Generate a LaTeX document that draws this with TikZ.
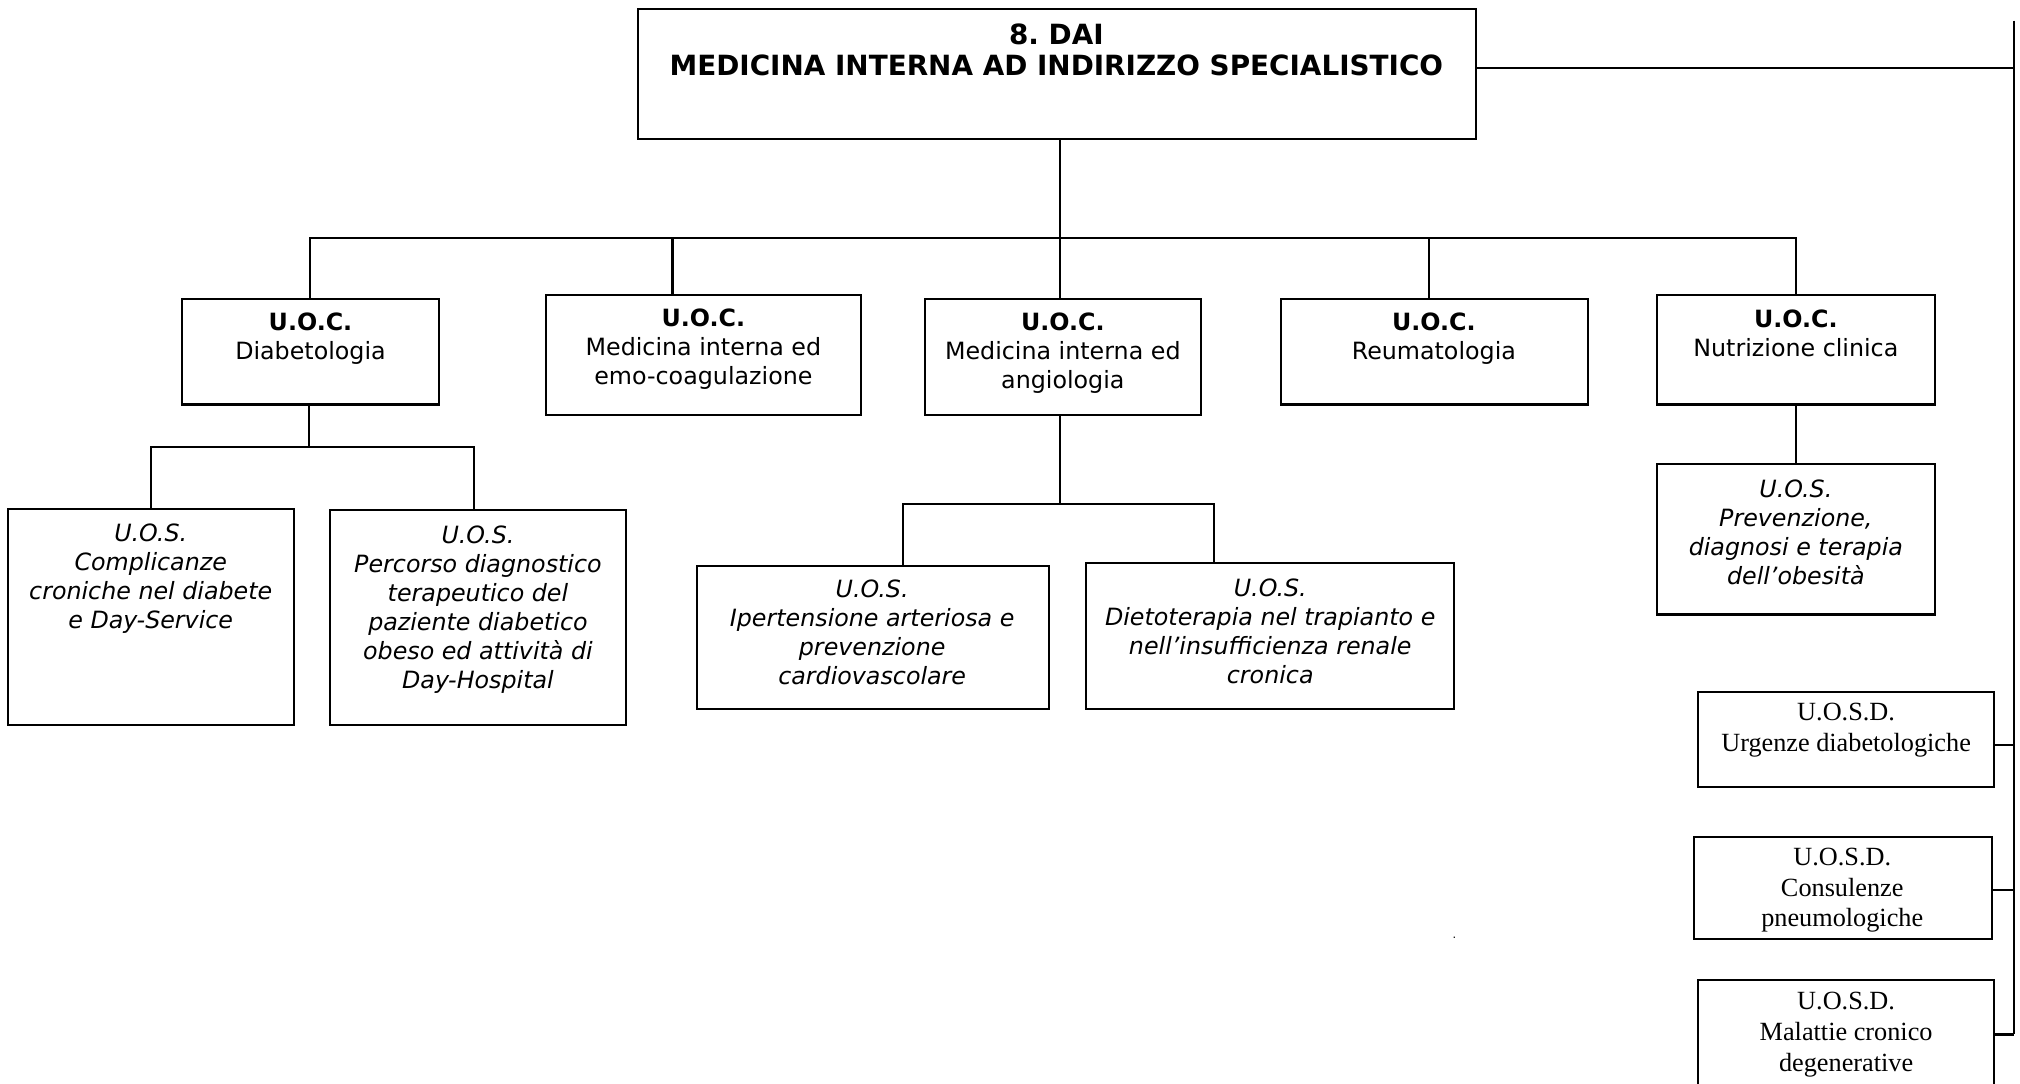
\documentclass[tikz,border=0pt]{standalone}
\usepackage{fontspec}
\setmainfont{DejaVu Sans}
\newfontfamily\serifx{Liberation Serif}
\frenchspacing
\newcommand\mkbox[5]{\node[boxs, minimum width={(#4-#2)*0.02cm}, minimum height={(#5-#3)*0.02cm}] (#1) at ({(#2+#4)/2},{(#3+#5)/2}) {};}
\begin{document}
\begin{tikzpicture}[x=0.02cm,y=-0.02cm,
 boxs/.style={draw, line width=0.9pt, inner sep=0pt, outer sep=0pt},
 uoctxt/.style={align=center, font=\fontsize{10.5}{12.8}\selectfont, inner sep=0pt},
 uostxt/.style={align=center, font=\fontsize{10.5}{12.8}\selectfont\itshape, inner sep=0pt},
 uosdtxt/.style={align=center, font=\serifx\fontsize{11.6}{13.6}\selectfont, inner sep=0pt},
 titletxt/.style={align=center, font=\fontsize{12.3}{13.7}\selectfont\bfseries, inner sep=0pt},
 conn/.style={line width=0.9pt}]
\useasboundingbox (0,0) rectangle (1568,841);
% boxes
\mkbox{top}{495}{7}{1146}{108}
\mkbox{uoc1}{141}{232}{341}{314}
\mkbox{uoc2}{424}{229}{668}{322}
\mkbox{uoc3}{718}{232}{932}{322}
\mkbox{uoc4}{994}{232}{1233}{314}
\mkbox{uoc5}{1286}{229}{1502}{314}
\mkbox{uos1}{6}{395}{228}{563}
\mkbox{uos2}{256}{396}{486}{563}
\mkbox{uos3}{541}{439}{814}{550}
\mkbox{uos4}{843}{437}{1129}{550}
\mkbox{uos5}{1286}{360}{1502}{477}
\mkbox{urg}{1318}{537}{1548}{611}
\mkbox{cons}{1315}{650}{1546}{729}
\mkbox{mal}{1318}{761}{1548}{870}
% texts
\node[titletxt] (ttop) at (820,39) {8. DAI\\MEDICINA INTERNA AD INDIRIZZO SPECIALISTICO};
\node[uoctxt] (t1) at (241,263) {\textbf{U.O.C.}\\Diabetologia};
\node[uoctxt] (t2) at (546,271) {\textbf{U.O.C.}\\Medicina interna ed\\emo-coagulazione};
\node[uoctxt] (t3) at (825,274) {\textbf{U.O.C.}\\Medicina interna ed\\angiologia};
\node[uoctxt] (t4) at (1113,263) {\textbf{U.O.C.}\\Reumatologia};
\node[uoctxt] (t5) at (1394,259) {\textbf{U.O.C.}\\Nutrizione clinica};
\node[uostxt] (s1) at (117,449) {U.O.S.\\Complicanze\\croniche nel diabete\\e Day-Service};
\node[uostxt] (s2) at (371,473) {U.O.S.\\Percorso diagnostico\\terapeutico del\\paziente diabetico\\obeso ed attività di\\Day-Hospital};
\node[uostxt] (s3) at (677,491) {U.O.S.\\Ipertensione arteriosa e\\prevenzione\\cardiovascolare};
\node[uostxt] (s4) at (986,490) {U.O.S.\\Dietoterapia nel trapianto e\\nell’insufficienza renale\\cronica};
\node[uostxt] (s5) at (1394,413) {U.O.S.\\Prevenzione,\\diagnosi e terapia\\dell’obesità};
\node[uosdtxt] (d1) at (1433,567) {U.O.S.D.\\Urgenze diabetologiche};
\node[uosdtxt] (d2) at (1430,691) {U.O.S.D.\\Consulenze\\pneumologiche};
\node[uosdtxt] (d3) at (1433,803) {U.O.S.D.\\Malattie cronico\\degenerative};
\node[inner sep=0pt, font=\tiny] (dot) at (1129,728) {.};
% connector coordinates
\coordinate (busA) at (823,185);
\coordinate (j2) at (522,185);
\coordinate (j4) at (1109,185);
\coordinate (busB) at (240,347);
\coordinate (k2) at (368,347);
\coordinate (busC) at (823,391);
\coordinate (k3) at (701,391);
\coordinate (k4) at (942,391);
\coordinate (rbtop) at (1563,16);
\coordinate (rt) at (1563,53);
\coordinate (rbbot) at (1563,803);
% level 1
\draw[conn] (top.south -| busA) -- (uoc3.north -| busA);
\draw[conn] (uoc1.north) -- (uoc1.north |- busA) -- (uoc5.north |- busA) -- (uoc5.north);
\draw[conn] (j2) -- (j2 |- uoc2.north);
\draw[conn] (j4) -- (j4 |- uoc4.north);
% under Diabetologia
\draw[conn] (uoc1.south -| busB) -- (busB);
\draw[conn] (uos1.north) -- (uos1.north |- busB) -- (k2) -- (k2 |- uos2.north);
% under angiologia
\draw[conn] (uoc3.south -| busC) -- (busC);
\draw[conn] (k3 |- uos3.north) -- (k3) -- (k4) -- (k4 |- uos4.north);
% under Nutrizione
\draw[conn] (uoc5.south) -- (uos5.north);
% right bus
\draw[conn] (rbtop) -- (rbbot);
\draw[conn] (top.east |- rt) -- (rt);
\draw[conn] (urg.east |- 0,578) -- (1563,578);
\draw[conn] (cons.east |- 0,691) -- (1563,691);
\draw[conn] (mal.east |- rbbot) -- (rbbot);
\end{tikzpicture}
\end{document}
